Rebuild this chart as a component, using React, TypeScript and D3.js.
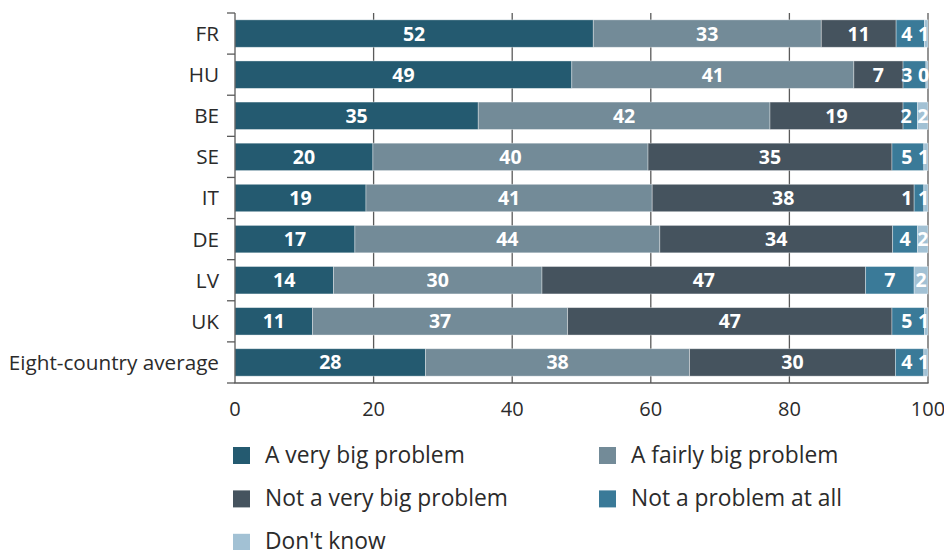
import React from "react";
import * as d3 from "d3";

const categories = ["FR", "HU", "BE", "SE", "IT", "DE", "LV", "UK", "Eight-country average"];
const seriesNames = [
  "A very big problem",
  "A fairly big problem",
  "Not a very big problem",
  "Not a problem at all",
  "Don't know",
];
const veryBig = [51.7, 48.6, 35.1, 19.9, 18.9, 17.3, 14.2, 11.2, 27.5];
const fairlyBig = [32.9, 40.7, 42.1, 39.7, 41.3, 44.0, 30.1, 36.8, 38.1];
const notVeryBig = [10.8, 7.1, 19.2, 35.2, 37.8, 33.6, 46.7, 46.8, 29.7];
const notAtAll = [4.1, 3.3, 2.1, 4.6, 1.4, 3.6, 7.0, 4.7, 4.1];
const dontKnow = [0.5, 0.3, 1.5, 0.6, 0.6, 1.5, 2.0, 0.5, 0.6];
const xTicks = [0, 20, 40, 60, 80, 100];

const colors = ["#245a70", "#738b98", "#45535e", "#3a7a98", "#a2c1d4"];
const FONT = "'Open Sans', sans-serif";

export default function App() {
  const width = 944;
  const height = 550;
  const x = d3.scaleLinear().domain([0, 100]).range([235, 928]);
  const y = d3
    .scaleBand<string>()
    .domain(categories)
    .range([13, 383])
    .paddingInner(0.333)
    .paddingOuter(0.1665);
  const step = y.step();
  const yTop = 13;
  const yBottom = 383;

  const table = categories.map((c, i) => ({
    cat: c,
    s0: veryBig[i],
    s1: fairlyBig[i],
    s2: notVeryBig[i],
    s3: notAtAll[i],
    s4: dontKnow[i],
  }));
  const keys = ["s0", "s1", "s2", "s3", "s4"];
  const stacked = d3.stack<any>().keys(keys)(table);

  const boundaries = d3.range(categories.length + 1).map((i) => yTop + i * step);

  // label layout: centred in segment, pushed left to avoid overflow/overlap at bar end
  const labels: { x: number; y: number; t: string; key: string }[] = [];
  categories.forEach((c, i) => {
    let rightLimit = x(100) + 1;
    const row: { x: number; t: string }[] = [];
    for (let li = stacked.length - 1; li >= 0; li--) {
      const d = stacked[li][i];
      const t = String(Math.round(d[1] - d[0]));
      const w = t.length * 10.8;
      let cx = (x(d[0]) + x(d[1])) / 2;
      if (cx + w / 2 > rightLimit) cx = rightLimit - w / 2;
      rightLimit = cx - w / 2 - 6;
      row.push({ x: cx, t });
    }
    row.forEach((r, k) =>
      labels.push({ x: r.x, y: y(c)! + y.bandwidth() / 2, t: r.t, key: c + k })
    );
  });

  return (
    <svg width={width} height={height} style={{ position: "absolute", left: 0, top: 0 }}>
      <rect width={width} height={height} fill="#fff" />
      {/* gridlines */}
      {xTicks.slice(1).map((t) => (
        <line key={t} x1={x(t)} x2={x(t)} y1={yTop} y2={yBottom} stroke="#5a5a5a" strokeWidth={1.3} />
      ))}
      {/* bars */}
      {stacked.map((layer, li) => (
        <g key={li}>
          {layer.map((d, i) => (
            <rect
              key={i}
              x={x(d[0])}
              y={y(categories[i])!}
              width={Math.max(0, x(d[1]) - x(d[0]))}
              height={y.bandwidth()}
              fill={colors[li]}
              stroke="#ffffff"
              strokeOpacity={0.45}
              strokeWidth={0.8}
            />
          ))}
        </g>
      ))}
      {/* value labels */}
      {labels.map((l) => (
        <text
          key={l.key}
          x={l.x}
          y={l.y}
          dy="0.36em"
          textAnchor="middle"
          fill="#fff"
          fontWeight="bold"
          fontSize={19.5}
          fontFamily={FONT}
        >
          {l.t}
        </text>
      ))}
      {/* axes */}
      <line x1={x(0)} x2={x(0)} y1={yTop} y2={yBottom} stroke="#5a5a5a" strokeWidth={1.3} />
      <line x1={x(0) - 0.6} x2={x(100) + 0.6} y1={yBottom} y2={yBottom} stroke="#5a5a5a" strokeWidth={1.3} />
      {boundaries.map((b, i) => (
        <line key={i} x1={x(0) - 8} x2={x(0)} y1={b} y2={b} stroke="#5a5a5a" strokeWidth={1.3} />
      ))}
      {categories.map((c) => (
        <text
          key={c}
          x={219}
          y={y(c)! + y.bandwidth() / 2}
          dy="0.36em"
          textAnchor="end"
          fill="#2b2b2b"
          fontSize={20.7}
          fontFamily={FONT}
        >
          {c}
        </text>
      ))}
      {xTicks.map((t) => (
        <text key={t} x={x(t)} y={416} textAnchor="middle" fill="#2b2b2b" fontSize={20} fontFamily={FONT}>
          {t}
        </text>
      ))}
      {/* legend */}
      {seriesNames.map((n, i) => {
        const col = i % 2;
        const row = Math.floor(i / 2);
        const lx = col === 0 ? 233 : 599;
        const ly = 447 + row * 43.4;
        return (
          <g key={n}>
            <rect x={lx} y={ly} width={17} height={17} fill={colors[i]} />
            <text x={lx + 32} y={ly + 15.5} fill="#2b2b2b" fontSize={22.8} fontFamily={FONT}>
              {n}
            </text>
          </g>
        );
      })}
    </svg>
  );
}
